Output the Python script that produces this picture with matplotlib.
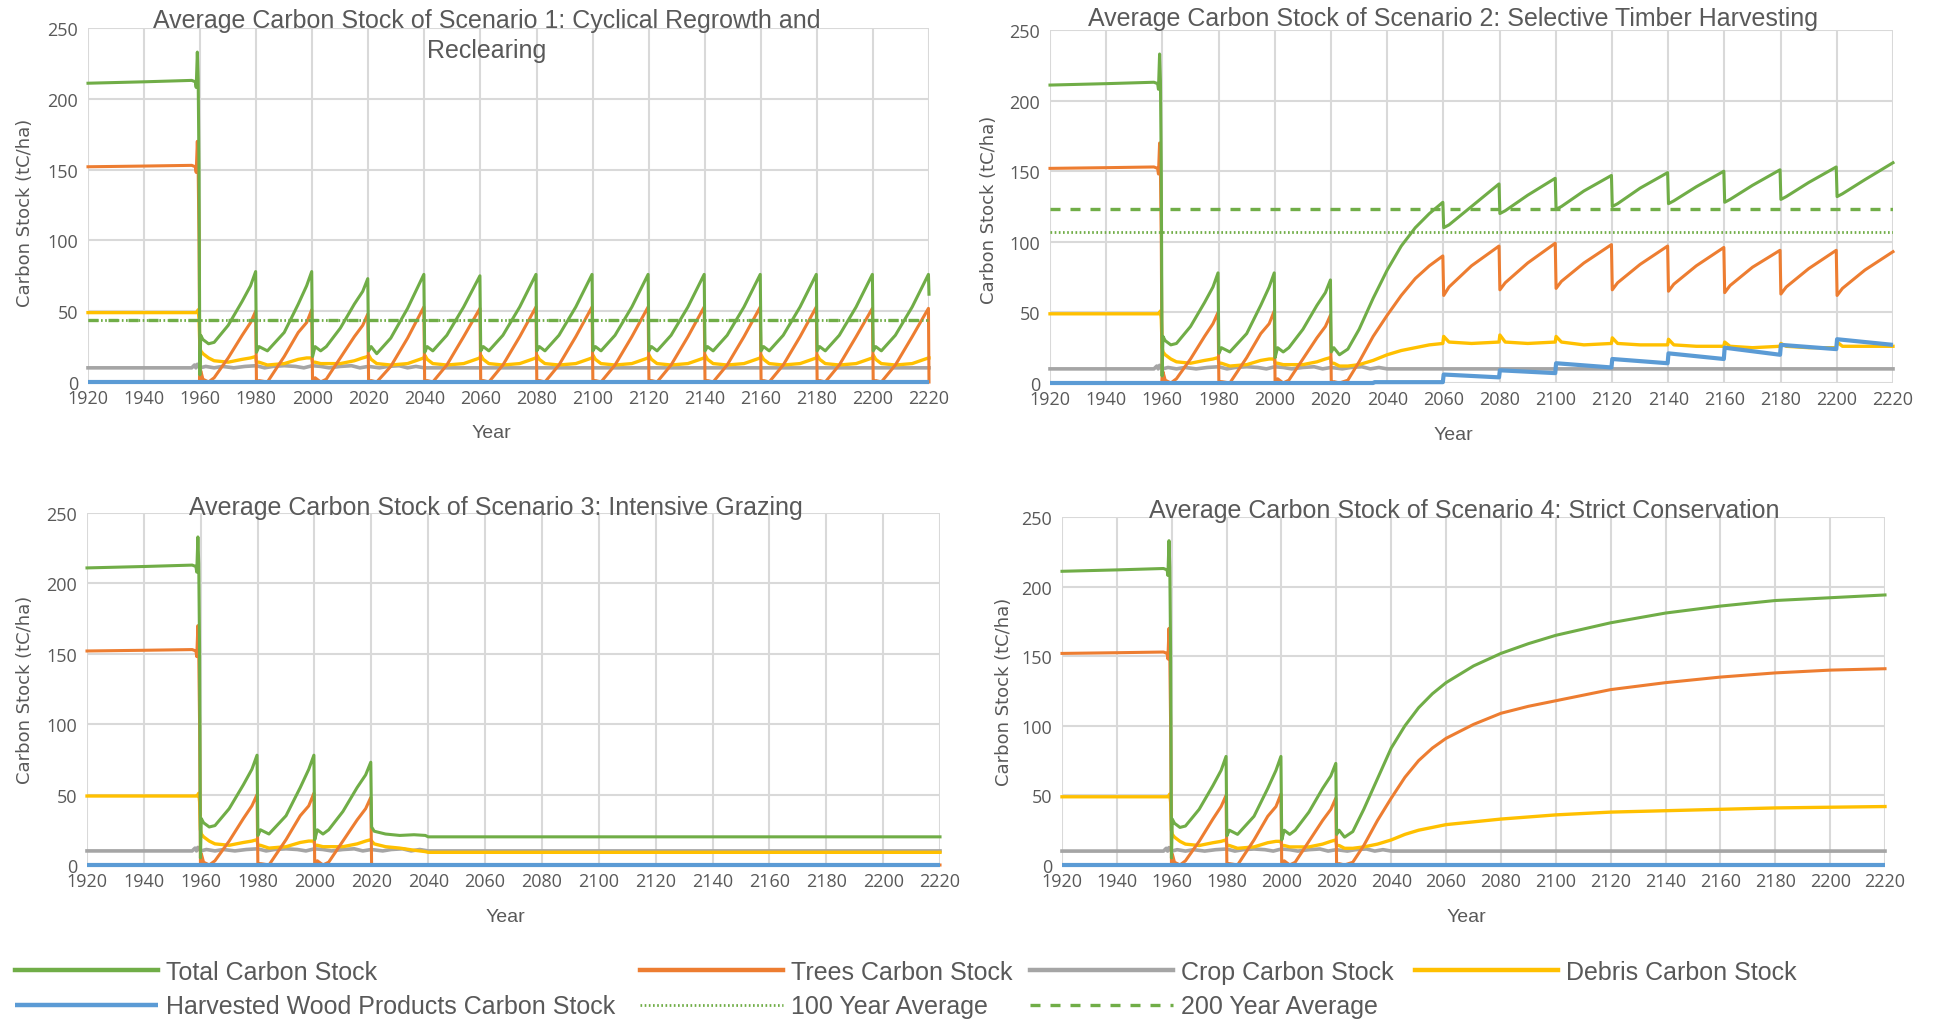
import matplotlib
matplotlib.use("Agg")
import matplotlib.pyplot as plt

W, H, DPI = 1938, 1020, 100

C_TOTAL = "#70AD47"
C_TREES = "#ED7D31"
C_CROP = "#A5A5A5"
C_DEBRIS = "#FFC000"
C_HWP = "#5B9BD5"
TXT = "#595959"
GRID = "#D9D9D9"

TITLE_FONT = ["Liberation Sans", "DejaVu Sans"]
TICK_FONT = ["Open Sans", "DejaVu Sans"]

titles = [
    "Average Carbon Stock of Scenario 1: Cyclical Regrowth and\nReclearing",
    "Average Carbon Stock of Scenario 2: Selective Timber Harvesting",
    "Average Carbon Stock of Scenario 3: Intensive Grazing",
    "Average Carbon Stock of Scenario 4: Strict Conservation",
]
x_ticks = list(range(1920, 2221, 20))
y_ticks = [0, 50, 100, 150, 200, 250]
legend_labels = ["Total Carbon Stock", "Trees Carbon Stock", "Crop Carbon Stock",
                 "Debris Carbon Stock", "Harvested Wood Products Carbon Stock",
                 "100 Year Average", "200 Year Average"]

# ---- shared history 1920-2020 (identical in all scenarios) ----
base_years = [1920, 1940, 1957, 1958.3, 1958.6, 1959.0, 1959.3, 1959.6, 1959.9, 1960.2,
              1961, 1963, 1965, 1970, 1975, 1978, 1979.8, 1980.1, 1981, 1984,
              1990, 1995, 1998, 1999.8, 2000.1, 2001, 2003, 2005, 2010, 2015,
              2018, 2019.8]
base_total = [211, 212, 213, 212, 208, 233, 214, 150, 5, 33,
              30, 27, 28, 40, 57, 68, 78, 21, 25, 22,
              35, 55, 68, 78, 18, 25, 22, 25, 38, 55,
              64, 73]
base_trees = [152, 152.5, 153, 152, 148, 170, 150, 100, 0, 8,
              2, 0, 3, 17, 33, 42, 50, 0, 1, 0,
              18, 35, 42, 51, 0, 3, 0, 2, 17, 32,
              40, 48]
base_debris = [49, 49, 49, 49, 49, 50, 51, 45, 25, 22,
               20, 17, 15, 14, 16, 17, 18, 14, 14, 12,
               13, 16, 17, 17, 14, 14, 13, 13, 13, 15,
               17, 18]

crop_years = [1920, 1957, 1958, 1958.5, 1959, 1959.5, 1960, 1962, 1965, 1968,
              1972, 1976, 1980, 1983, 1986, 1990, 1994, 1997, 2000, 2003,
              2006, 2010, 2014, 2017, 2020, 2024, 2027, 2031, 2034, 2037,
              2040, 2220]
crop_vals = [10, 10, 12, 10, 12.5, 11, 10, 11, 10, 11,
             10, 11, 11.5, 10, 11, 11.5, 11, 10, 11.5, 11,
             10, 11, 11.5, 10, 11, 10, 11, 11.5, 10, 11,
             10, 10]

# ---- Scenario 1: cyclical regrowth and reclearing (2020-2220) ----
s1_years = [2020.1, 2021, 2023, 2028, 2034, 2039.8,
            2040.1, 2041, 2043, 2048, 2054, 2059.8,
            2060.1, 2061, 2063, 2068, 2074, 2079.8,
            2080.1, 2081, 2083, 2088, 2094, 2099.8,
            2100.1, 2101, 2103, 2108, 2114, 2119.8,
            2120.1, 2121, 2123, 2128, 2134, 2139.8,
            2140.1, 2141, 2143, 2148, 2154, 2159.8,
            2160.1, 2161, 2163, 2168, 2174, 2179.8,
            2180.1, 2181, 2183, 2188, 2194, 2199.8,
            2200.1, 2201, 2203, 2208, 2214, 2219.8, 2220]
s1_total = [22, 25, 20, 31, 52, 76,
            21, 25, 22, 33, 53, 75,
            22, 25, 22, 33, 53, 76,
            22, 25, 22, 33, 53, 76,
            22, 25, 22, 33, 53, 76,
            22, 25, 22, 33, 53, 76,
            22, 25, 22, 33, 53, 76,
            22, 25, 22, 33, 53, 76,
            22, 25, 22, 33, 53, 76,
            22, 25, 22, 33, 53, 76, 62]
s1_trees = [0, 1, 0, 11, 31, 53,
            0, 1, 0, 12, 32, 52,
            0, 1, 0, 12, 32, 53,
            0, 1, 0, 12, 32, 53,
            0, 1, 0, 12, 32, 53,
            0, 1, 0, 12, 32, 53,
            0, 1, 0, 12, 32, 53,
            0, 1, 0, 12, 32, 53,
            0, 1, 0, 12, 32, 52,
            0, 1, 0, 12, 32, 52, 0]
s1_debris = [19, 16, 13, 12, 13, 17,
             19, 16, 13, 12, 13, 17,
             19, 16, 13, 12, 13, 17,
             19, 16, 13, 12, 13, 17,
             19, 16, 13, 12, 13, 17,
             19, 16, 13, 12, 13, 17,
             19, 16, 13, 12, 13, 17,
             19, 16, 13, 12, 13, 17,
             19, 16, 13, 12, 13, 17,
             19, 16, 13, 12, 13, 17, 17]
s1_hwp_years = [1920, 2220]
s1_hwp = [0, 0]
s1_avg100 = 44
s1_avg200 = 44

# ---- Scenario 2: selective timber harvesting ----
s2_years = [2020.1, 2021, 2023, 2026, 2030, 2035, 2040, 2045, 2050, 2055, 2059.8,
            2060.1, 2062, 2070, 2079.8, 2080.1, 2082, 2090, 2099.8,
            2100.1, 2102, 2110, 2119.8, 2120.1, 2122, 2130, 2139.8,
            2140.1, 2142, 2150, 2159.8, 2160.1, 2162, 2170, 2179.8,
            2180.1, 2182, 2190, 2199.8, 2200.1, 2202, 2210, 2220]
s2_total = [22, 25, 20, 24, 38, 60, 80, 97, 110, 120, 128,
            110, 112, 125, 141, 120, 122, 133, 145,
            123, 125, 136, 147, 125, 127, 138, 149,
            127, 129, 139, 150, 128, 130, 140, 151,
            130, 132, 142, 153, 132, 134, 144, 156]
s2_trees = [0, 1, 0, 2, 15, 33, 48, 62, 74, 83, 90,
            62, 68, 83, 97, 66, 71, 85, 99,
            67, 72, 85, 98, 66, 71, 84, 97,
            65, 70, 83, 96, 64, 69, 82, 94,
            63, 68, 81, 94, 62, 67, 80, 93]
s2_debris = [14, 14, 12, 12, 13, 16, 20, 23, 25, 27, 28,
             33, 29, 28, 29, 34, 29, 28, 29,
             33, 29, 27, 28, 32, 28, 27, 27,
             31, 27, 26, 26, 29, 26, 25, 26,
             28, 26, 25, 25, 29, 26, 26, 26]
s2_hwp_years = [1920, 2035, 2035.5, 2059.8, 2060.1, 2079.8, 2080.1, 2099.8, 2100.1, 2119.8,
                2120.1, 2139.8, 2140.1, 2159.8, 2160.1, 2179.8, 2180.1, 2199.8, 2200.1, 2220]
s2_hwp = [0, 0, 0.6, 0.6, 6, 4, 9, 7, 14, 11,
          17, 14, 21, 17, 25, 20, 27, 24, 31, 27]
s2_avg100 = 107
s2_avg200 = 123

# ---- Scenario 3: intensive grazing ----
s3_years = [2020.1, 2021, 2023, 2025, 2030, 2035, 2039, 2040, 2220]
s3_total = [27, 24, 23, 22, 21, 21.5, 21, 20, 20]
s3_trees = [0, 0, 0, 0, 0, 0, 0, 0, 0]
s3_debris = [17, 15, 14, 13, 12, 10.5, 9.5, 9, 9]
s3_hwp_years = [1920, 2220]
s3_hwp = [0, 0]

# ---- Scenario 4: strict conservation ----
s4_years = [2020.1, 2021, 2023, 2026, 2030, 2035, 2040, 2045, 2050, 2055, 2060,
            2070, 2080, 2090, 2100, 2120, 2140, 2160, 2180, 2200, 2220]
s4_total = [22, 25, 20, 24, 40, 62, 84, 100, 113, 123, 131,
            143, 152, 159, 165, 174, 181, 186, 190, 192, 194]
s4_trees = [0, 1, 0, 2, 14, 32, 48, 63, 75, 84, 91,
            101, 109, 114, 118, 126, 131, 135, 138, 140, 141]
s4_debris = [14, 14, 12, 12, 13, 15, 18, 22, 25, 27, 29,
             31, 33, 34.5, 36, 38, 39, 40, 41, 41.5, 42]
s4_hwp_years = [1920, 2220]
s4_hwp = [0, 0]

scenarios = [
    dict(years=s1_years, total=s1_total, trees=s1_trees, debris=s1_debris,
         hwp_years=s1_hwp_years, hwp=s1_hwp, avg100=s1_avg100, avg200=s1_avg200),
    dict(years=s2_years, total=s2_total, trees=s2_trees, debris=s2_debris,
         hwp_years=s2_hwp_years, hwp=s2_hwp, avg100=s2_avg100, avg200=s2_avg200),
    dict(years=s3_years, total=s3_total, trees=s3_trees, debris=s3_debris,
         hwp_years=s3_hwp_years, hwp=s3_hwp, avg100=None, avg200=None),
    dict(years=s4_years, total=s4_total, trees=s4_trees, debris=s4_debris,
         hwp_years=s4_hwp_years, hwp=s4_hwp, avg100=None, avg200=None),
]

# layout in pixels: (left, top, right, bottom)
axes_px = [(88, 29, 929, 383), (1050, 31, 1893, 384),
           (87, 514, 940, 866), (1062, 518, 1885, 866)]
title_px = [(487, 36), (1453, 19), (496, 508), (1464, 511)]
ylabel_px = [(25, 213), (989, 210), (25, 690), (1004, 692)]
xlabel_px = [(491, 434), (1453, 435), (505, 918), (1466, 918)]

fig = plt.figure(figsize=(W / DPI, H / DPI), dpi=DPI)
fig.patch.set_facecolor("white")


def fx(x):
    return x / W


def fy(y):
    return 1 - y / H


handles = {}
for i, (sc, box) in enumerate(zip(scenarios, axes_px)):
    l, t, r, b = box
    ax = fig.add_axes([fx(l), fy(b), (r - l) / W, (b - t) / H])
    yrs = base_years + sc["years"]
    tot = base_total + sc["total"]
    trs = base_trees + sc["trees"]
    deb = base_debris + sc["debris"]

    h_crop, = ax.plot(crop_years, crop_vals, color=C_CROP, lw=2.6, zorder=3, clip_on=False)
    h_deb, = ax.plot(yrs, deb, color=C_DEBRIS, lw=2.4, zorder=4, clip_on=False)
    h_trees, = ax.plot(yrs, trs, color=C_TREES, lw=2.2, zorder=5, clip_on=False)
    h_tot, = ax.plot(yrs, tot, color=C_TOTAL, lw=2.2, zorder=6, clip_on=False)
    h_hwp, = ax.plot(sc["hwp_years"], sc["hwp"], color=C_HWP, lw=3.0, zorder=7,
                     clip_on=False, solid_capstyle="butt")
    if sc["avg200"] is not None:
        h_a200 = ax.axhline(sc["avg200"], color=C_TOTAL, lw=2.4, ls=(0, (3, 3)), zorder=6)
        h_a100 = ax.axhline(sc["avg100"], color=C_TOTAL, lw=2.0, ls=(0, (0.6, 0.9)), zorder=6)
        if i == 0:
            handles["a100"] = h_a100
            handles["a200"] = h_a200
    if i == 0:
        handles.update(total=h_tot, trees=h_trees, crop=h_crop, debris=h_deb, hwp=h_hwp)

    ax.set_xlim(1920, 2220)
    ax.set_ylim(0, 250)
    ax.set_xticks(x_ticks)
    ax.set_yticks(y_ticks)
    ax.set_xticklabels([str(v) for v in x_ticks])
    ax.set_yticklabels([str(v) for v in y_ticks])
    for s in ax.spines.values():
        s.set_visible(False)
    ax.grid(True, color=GRID, lw=1.5)
    ax.set_axisbelow(True)
    ax.tick_params(length=0, labelsize=13, labelcolor=TXT)
    ax.tick_params(axis="x", pad=5)
    ax.tick_params(axis="y", pad=7)
    for lab in ax.get_xticklabels() + ax.get_yticklabels():
        lab.set_family(TICK_FONT)
    ax.set_facecolor("white")

    tx, ty = title_px[i]
    fig.text(fx(tx), fy(ty), titles[i], ha="center", va="center", fontsize=18,
             color=TXT, family=TITLE_FONT, linespacing=1.3)
    lx, ly = ylabel_px[i]
    fig.text(fx(lx), fy(ly), "Carbon Stock (tC/ha)", rotation=90, ha="center",
             va="center", fontsize=13, color=TXT, family=["DejaVu Sans"])
    xx, xy = xlabel_px[i]
    fig.text(fx(xx), fy(xy), "Year", ha="center", va="center", fontsize=14,
             color=TXT, family=TITLE_FONT)

# legend: four columns placed at their positions
columns = [
    ([handles["total"], handles["hwp"]], [legend_labels[0], legend_labels[4]], 15),
    ([handles["trees"], handles["a100"]], [legend_labels[1], legend_labels[5]], 640),
    ([handles["crop"], handles["a200"]], [legend_labels[2], legend_labels[6]], 1030),
    ([handles["debris"]], [legend_labels[3]], 1415),
]
for hs, labs, x0 in columns:
    leg = fig.legend(hs, labs, loc="upper left", bbox_to_anchor=(fx(x0), fy(961)),
                     frameon=False, handlelength=5.7, handletextpad=0.35, borderpad=0,
                     borderaxespad=0, labelspacing=0.42, labelcolor=TXT,
                     prop=dict(family=TITLE_FONT, size=18))
    for lh, src in zip(leg.legend_handles, hs):
        if src.get_linestyle() == "-":
            lh.set_linewidth(3.2)

fig.savefig("out.png", dpi=DPI, facecolor="white")
